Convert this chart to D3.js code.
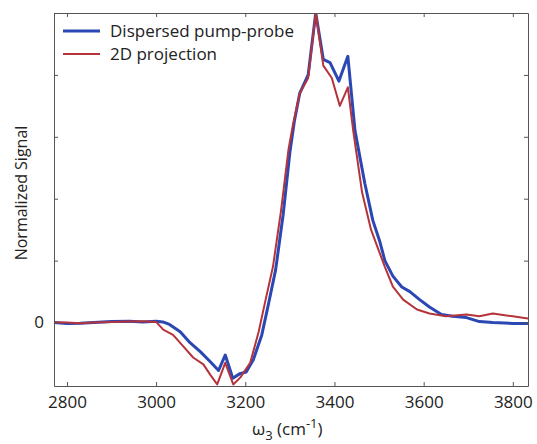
<!DOCTYPE html>
<html>
<head>
<meta charset="utf-8">
<script src="https://cdn.jsdelivr.net/npm/d3@7"></script>
<style>
  body { margin: 0; background: #fff; }
  text { font-family: "Open Sans", sans-serif; fill: #222; }
</style>
</head>
<body>
<div id="chart"></div>
<script>
// Dispersed pump-probe (blue)
const pumpX = [2770, 2800, 2830, 2860, 2900, 2940, 2970, 3000, 3015, 3030, 3054, 3076, 3099, 3121, 3140, 3155, 3172, 3188, 3202, 3218, 3237, 3252, 3268, 3285, 3300, 3310, 3322, 3341, 3358, 3375, 3390, 3410, 3430, 3446, 3468, 3486, 3502, 3513, 3531, 3551, 3569, 3591, 3613, 3640, 3665, 3696, 3725, 3755, 3800, 3834];
const pumpY = [0, -0.003, -0.002, 0, 0.003, 0.004, 0.002, 0.004, 0.002, -0.006, -0.03, -0.065, -0.094, -0.126, -0.155, -0.105, -0.18, -0.165, -0.16, -0.12, -0.04, 0.06, 0.17, 0.35, 0.55, 0.65, 0.74, 0.80, 1.0, 0.85, 0.84, 0.78, 0.86, 0.62, 0.45, 0.33, 0.26, 0.20, 0.15, 0.115, 0.10, 0.074, 0.05, 0.026, 0.02, 0.016, 0.003, 0, -0.003, -0.003];

// 2D projection (red)
const projX = [2770, 2800, 2830, 2860, 2900, 2940, 2970, 3000, 3016, 3038, 3061, 3083, 3106, 3122, 3137, 3155, 3173, 3189, 3211, 3230, 3245, 3262, 3280, 3297, 3307, 3322, 3341, 3358, 3375, 3394, 3412, 3430, 3442, 3462, 3482, 3500, 3513, 3531, 3554, 3585, 3613, 3650, 3696, 3725, 3755, 3800, 3834];
const projY = [0, 0, -0.002, 0, 0.002, 0.003, 0.004, 0.002, -0.023, -0.04, -0.077, -0.113, -0.135, -0.17, -0.2, -0.13, -0.2, -0.177, -0.13, -0.03, 0.07, 0.18, 0.36, 0.56, 0.64, 0.74, 0.79, 1.0, 0.83, 0.79, 0.70, 0.76, 0.62, 0.42, 0.30, 0.23, 0.18, 0.116, 0.074, 0.042, 0.029, 0.02, 0.026, 0.02, 0.029, 0.02, 0.013];

const xTicks = [2800, 3000, 3200, 3400, 3600, 3800];
const yTicks = [0, 0.2, 0.4, 0.6, 0.8, 1.0];
const yTickLabels = ['0', '', '', '', '', ''];

const series = [
    {name: 'Dispersed pump-probe', xs: pumpX, ys: pumpY, color: '#2a47b3', width: 3},
    {name: '2D projection', xs: projX, ys: projY, color: '#b5333b', width: 2}
];

const W = 537, H = 444;
const margin = {top: 13, right: 9, bottom: 58, left: 54};
const width = W - margin.left - margin.right;
const height = H - margin.top - margin.bottom;

const svg = d3.select('#chart').append('svg')
    .attr('width', W)
    .attr('height', H);

const g = svg.append('g')
    .attr('transform', `translate(${margin.left},${margin.top})`);

const x = d3.scaleLinear().domain([2771, 3834]).range([0, width]);
const y = d3.scaleLinear().domain([-0.205, 1.0]).range([height, 0]);

g.append('clipPath').attr('id', 'clip')
  .append('rect').attr('width', width).attr('height', height);

// Lines
const line = d3.line()
    .x(d => x(d[0]))
    .y(d => y(d[1]));

series.forEach(s => {
    g.append('path')
        .datum(s.xs.map((v, i) => [v, s.ys[i]]))
        .attr('clip-path', 'url(#clip)')
        .attr('d', line)
        .attr('fill', 'none')
        .attr('stroke', s.color)
        .attr('stroke-width', s.width)
        .attr('stroke-linejoin', 'round');
});

// Axes (box with inward ticks)
const axisStyle = sel => {
    sel.select('.domain').attr('stroke', '#555').attr('stroke-width', 1);
    sel.selectAll('.tick line').attr('stroke', '#555');
};

g.append('g')
    .attr('transform', `translate(0,${height})`)
    .call(d3.axisBottom(x).tickValues(xTicks).tickSize(-4).tickSizeOuter(0).tickPadding(10)
        .tickFormat(d3.format('d')))
    .call(axisStyle)
    .call(a => a.selectAll('text').style('font-size', '17px').style('font-family', '"Open Sans", sans-serif').attr('fill', '#222'));

g.append('g')
    .call(d3.axisTop(x).tickValues(xTicks).tickSize(-4).tickSizeOuter(0).tickFormat(''))
    .call(axisStyle);

g.append('g')
    .call(d3.axisLeft(y).tickValues(yTicks).tickSize(-4).tickSizeOuter(0).tickPadding(10)
        .tickFormat((d, i) => yTickLabels[i]))
    .call(axisStyle)
    .call(a => a.selectAll('text').style('font-size', '17px').style('font-family', '"Open Sans", sans-serif').attr('fill', '#222'));

g.append('g')
    .attr('transform', `translate(${width},0)`)
    .call(d3.axisRight(y).tickValues(yTicks).tickSize(-4).tickSizeOuter(0).tickFormat(''))
    .call(axisStyle);

// Axis labels
const xl = svg.append('text')
    .attr('x', 252)
    .attr('y', 435)
    .style('font-size', '17px');
xl.append('tspan').text('ω');
xl.append('tspan').attr('dy', 5).style('font-size', '13px').text('3');
xl.append('tspan').attr('dy', -5).text(' (cm');
xl.append('tspan').attr('dy', -7).style('font-size', '13px').text('-1');
xl.append('tspan').attr('dy', 7).text(')');

svg.append('text')
    .attr('transform', 'rotate(-90)')
    .attr('x', -193)
    .attr('y', 27)
    .style('text-anchor', 'middle')
    .style('font-size', '16px')
    .text('Normalized Signal');

// Legend
const legend = svg.append('g')
    .attr('transform', 'translate(63, 31)');

series.forEach((s, i) => {
    const row = legend.append('g')
        .attr('transform', `translate(0, ${i * 23})`);
    row.append('line')
        .attr('x1', 0).attr('x2', 37)
        .attr('stroke', s.color)
        .attr('stroke-width', s.width);
    row.append('text')
        .attr('x', 47)
        .attr('y', 6)
        .style('font-size', '17px')
        .text(s.name);
});
</script>
</body>
</html>
